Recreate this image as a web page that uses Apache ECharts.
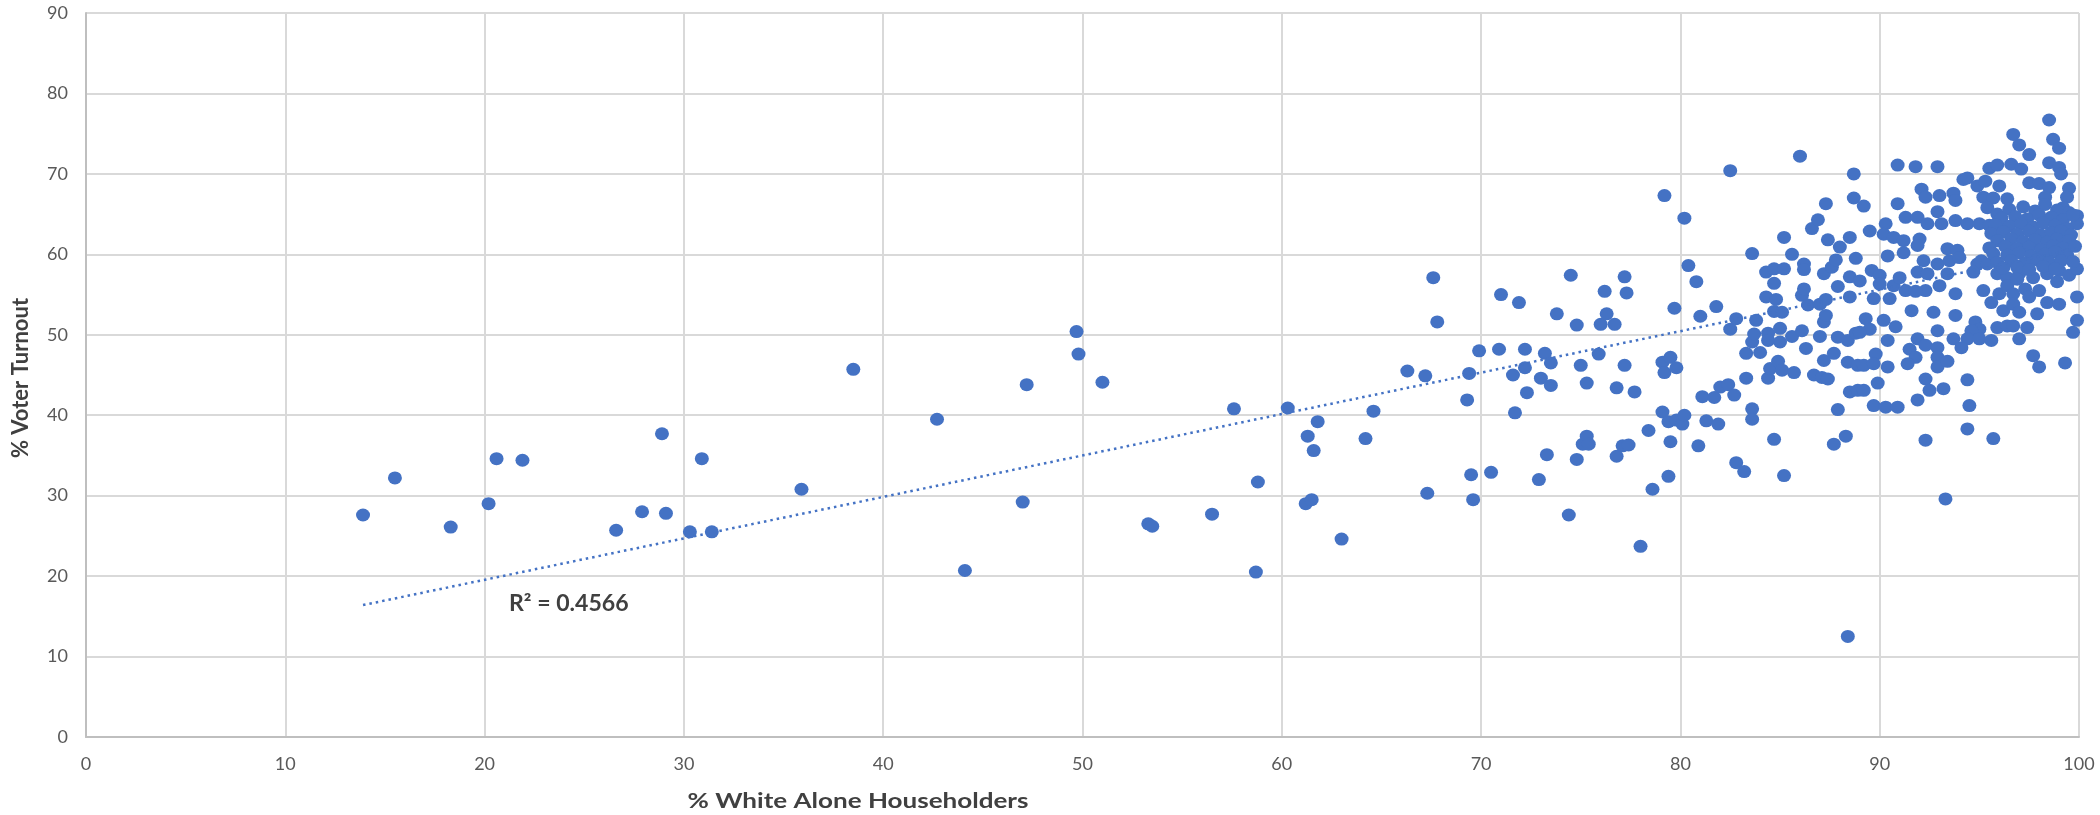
<!DOCTYPE html>
<html>
<head>
<meta charset="utf-8">
<script src="https://cdn.jsdelivr.net/npm/echarts@6/dist/echarts.min.js"></script>
<style>
html,body{margin:0;padding:0;background:#ffffff;}
#chart{width:2100px;height:815px;}
</style>
</head>
<body>
<div id="chart"></div>
<script>
// % White Alone Householders (x) and % Voter Turnout (y), paired by index
const pctWhite = [
  13.9,15.5,18.3,20.2,20.6,21.9,26.6,27.9,28.9,29.1,
  30.3,30.9,31.4,35.9,38.5,42.7,44.1,47.0,47.2,49.7,
  49.8,51.0,53.3,53.5,56.5,57.6,58.7,58.8,60.3,61.2,
  61.5,61.3,61.6,61.8,63.0,
  64.2,64.6,66.3,67.2,67.3,67.6,67.8,69.3,69.4,69.5,
  69.6,69.9,70.5,70.9,71.0,71.6,71.7,71.9,72.2,72.2,
  72.3,72.9,73.0,73.2,73.3,73.5,73.5,73.8,74.4,74.5,
  74.8,74.8,75.0,75.1,75.3,75.3,75.4,75.9,76.0,76.2,
  76.3,76.7,76.8,76.8,77.1,77.2,77.2,77.3,77.4,77.7,
  78.0,78.4,78.6,79.1,79.1,79.2,79.2,79.4,79.4,79.5,
  79.5,79.7,79.8,79.8,80.1,80.2,80.2,80.4,80.8,80.9,
  81.0,81.1,81.3,81.7,81.8,81.9,82.0,82.4,82.5,82.5,
  82.7,82.8,82.8,83.2,83.3,83.3,83.6,83.6,83.6,83.6,
  83.7,83.8,84.0,84.3,84.3,84.4,84.4,84.4,84.5,84.7,
  84.7,84.7,84.7,84.8,84.9,85.0,85.0,85.1,85.1,85.2,
  85.2,85.2,85.6,85.6,85.7,86.0,86.1,86.1,86.2,86.2,
  86.2,86.3,86.4,86.6,86.7,86.9,87.0,87.0,87.1,87.2,
  87.2,87.2,87.3,87.3,87.3,87.4,87.4,87.6,87.7,87.7,
  87.8,87.9,87.9,87.9,88.0,88.3,88.4,88.4,88.4,88.5,
  88.5,88.5,88.5,88.7,88.7,88.8,88.8,88.9,88.9,89.2,
  89.5,90.9,91.8,92.9,95.5,95.9,96.6,97.1,98.5,99.0,
  99.1,98.5,96.7,97.0,97.5,98.7,99.0,94.2,94.4,94.9,
  95.3,96.0,97.5,98.0,98.5,99.5,92.1,92.3,93.0,93.7,
  93.8,90.9,95.2,95.7,96.4,98.3,99.4,99.2,92.9,95.4,
  95.9,91.3,91.9,92.4,90.3,93.1,93.8,94.4,95.0,95.5,
  96.3,99.9,99.9,90.2,90.7,91.2,92.0,91.9,90.4,91.2,
  93.4,93.9,95.1,89.0,89.6,90.0,90.0,90.7,91.3,91.0,
  91.9,92.2,92.4,92.9,93.4,93.5,94.0,93.0,93.8,92.3,
  91.8,94.9,95.4,94.7,95.9,96.4,97.0,97.7,98.4,99.0,
  99.5,99.9,95.2,95.6,96.0,96.4,96.7,97.3,97.5,98.0,
  98.4,99.0,97.9,99.9,96.2,96.7,97.0,91.6,92.7,93.8,
  89.7,90.5,89.3,90.2,89.5,90.8,89.0,92.9,94.8,95.0,
  94.6,95.9,96.4,96.7,97.4,97.0,99.7,99.9,90.4,91.9,
  93.7,94.4,95.0,95.6,94.1,91.5,92.3,92.9,91.8,92.9,
  89.8,97.7,98.0,99.3,89.2,89.7,90.4,91.4,92.9,93.4,
  92.3,92.5,93.2,89.9,94.4,94.5,89.2,91.9,89.7,90.3,
  90.9,94.4,92.3,95.7,93.3,
  96.5,97.2,97.8,98.3,98.9,99.5,
  96.1,96.8,97.4,98.0,98.6,99.2,99.7,
  95.8,96.5,97.1,97.7,98.2,98.8,99.4,
  95.6,96.2,96.9,97.5,98.1,98.6,99.1,99.6,
  95.9,96.6,97.2,97.8,98.4,98.9,99.5,
  95.5,96.3,96.9,97.5,98.1,98.7,99.2,99.8,
  95.7,96.4,97.0,97.6,98.3,98.8,99.4,
  95.9,96.6,97.3,97.9,98.5,99.1,99.7,
  96.2,96.9,97.5,98.2,98.8,
  96.9,98.9
];
const pctTurnout = [
  27.6,32.2,26.1,29.0,34.6,34.4,25.7,28.0,37.7,27.8,
  25.5,34.6,25.5,30.8,45.7,39.5,20.7,29.2,43.8,50.4,
  47.6,44.1,26.5,26.2,27.7,40.8,20.5,31.7,40.9,29.0,
  29.5,37.4,35.6,39.2,24.6,
  37.1,40.5,45.5,44.9,30.3,57.1,51.6,41.9,45.2,32.6,
  29.5,48.0,32.9,48.2,55.0,45.0,40.3,54.0,48.2,45.9,
  42.8,32.0,44.6,47.7,35.1,46.5,43.7,52.6,27.6,57.4,
  51.2,34.5,46.2,36.4,44.0,37.4,36.4,47.6,51.3,55.4,
  52.6,51.3,43.4,34.9,36.2,46.2,57.2,55.2,36.3,42.9,
  23.7,38.1,30.8,46.6,40.4,67.3,45.3,39.2,32.4,47.2,
  36.7,53.3,45.9,39.4,38.9,40.0,64.5,58.6,56.6,36.2,
  52.3,42.3,39.3,42.2,53.5,38.9,43.5,43.8,70.4,50.7,
  42.5,52.0,34.1,33.0,44.6,47.7,60.1,40.8,39.5,49.1,
  50.1,51.8,47.8,57.8,54.7,50.2,49.3,44.6,45.8,58.2,
  56.4,52.9,37.0,54.4,46.7,50.8,49.1,52.8,45.6,62.1,
  58.2,32.5,60.0,49.8,45.3,72.2,54.9,50.5,58.8,58.1,
  55.7,48.3,53.7,63.2,45.0,64.3,53.8,49.8,44.7,57.6,
  51.6,46.8,66.3,54.4,52.4,61.8,44.5,58.4,47.7,36.4,
  59.3,56.0,49.7,40.7,60.9,37.4,49.3,46.6,12.5,62.1,
  57.2,54.7,42.9,70.0,67.0,59.5,50.2,46.2,43.1,66.0,
  62.9,71.1,70.9,70.9,70.7,71.1,71.2,70.6,71.4,70.8,
  70.0,76.7,74.9,73.6,72.4,74.3,73.2,69.3,69.5,68.5,
  69.1,68.5,68.9,68.8,68.3,68.2,68.1,67.1,67.3,67.6,
  66.7,66.3,67.1,67.0,66.9,67.1,67.1,65.8,65.3,65.8,
  65.0,64.6,64.6,63.8,63.8,63.8,64.2,63.8,63.8,63.6,
  63.3,64.8,63.8,62.5,62.1,61.7,61.9,61.1,59.8,60.2,
  60.7,60.5,59.2,56.7,58.0,57.4,56.3,56.1,55.5,57.1,
  57.8,59.2,57.6,58.8,57.6,59.2,59.6,56.1,55.1,55.5,
  55.4,58.8,58.8,57.8,57.6,57.1,57.6,57.1,57.6,58.0,
  57.4,58.2,55.5,54.0,55.1,56.1,55.1,55.7,54.7,55.5,
  54.0,53.8,52.6,54.7,53.0,53.8,52.8,53.0,52.8,52.4,
  54.5,54.5,52.0,51.8,50.7,51.0,50.3,50.5,51.6,50.7,
  50.5,50.9,51.1,51.1,50.9,49.5,50.3,51.8,49.3,49.5,
  49.5,49.5,49.5,49.3,48.4,48.2,48.7,48.4,47.2,47.2,
  47.6,47.4,46.0,46.5,46.2,46.4,46.0,46.4,46.0,46.7,
  44.5,43.1,43.3,44.0,44.4,41.2,43.1,41.9,41.2,41.0,
  41.0,38.3,36.9,37.1,29.6,
  65.6,65.9,65.4,66.2,65.5,65.2,
  64.5,64.7,64.4,64.9,64.6,64.3,64.9,
  63.7,63.5,63.8,63.4,63.9,63.6,63.2,
  62.6,62.8,62.5,62.9,62.4,62.7,62.9,62.4,
  61.7,61.9,61.6,61.8,61.5,61.9,61.7,
  60.8,61.0,60.7,60.9,60.6,61.1,60.8,61.0,
  60.1,59.9,60.2,59.8,60.0,60.3,59.9,
  59.0,59.2,58.9,59.3,59.0,59.2,59.1,
  58.3,58.4,58.1,58.5,58.2,
  56.9,56.6
];
// Linear trendline end points
const trendX = [13.9, 99.9];
const trendY = [16.4, 60.7];
const rSquaredLabel = 'R² = 0.4566';
const xTitle = '% White Alone Householders';
const yTitle = '% Voter Turnout';

const points = pctWhite.map((x, i) => [x, pctTurnout[i]]);
const trend = trendX.map((x, i) => [x, trendY[i]]);

const chart = echarts.init(document.getElementById('chart'), null, {renderer: 'canvas'});
const labelStyle = {color: '#595959', fontSize: 18, fontFamily: 'Lato'};
chart.setOption({
  animation: false,
  backgroundColor: '#ffffff',
  grid: {left: 86, right: 21, top: 13, bottom: 78},
  xAxis: {
    type: 'value', min: 0, max: 100, interval: 10,
    axisLine: {show: true, onZero: false, lineStyle: {color: '#bfbfbf', width: 2}},
    axisTick: {show: false},
    axisLabel: Object.assign({margin: 18}, labelStyle),
    splitLine: {show: true, lineStyle: {color: '#d9d9d9', width: 2}}
  },
  yAxis: {
    type: 'value', min: 0, max: 90, interval: 10,
    axisLine: {show: true, onZero: false, lineStyle: {color: '#bfbfbf', width: 2}},
    axisTick: {show: false},
    axisLabel: Object.assign({margin: 18}, labelStyle),
    splitLine: {show: true, lineStyle: {color: '#d9d9d9', width: 2}}
  },
  series: [
    {
      type: 'scatter', data: points, symbol: 'circle', symbolSize: [14, 13],
      itemStyle: {color: '#4472C4', opacity: 1}, z: 2, silent: true
    },
    {
      type: 'line', data: trend, symbol: 'none', z: 3, silent: true,
      lineStyle: {color: '#4472C4', width: 2.5, type: [2.5, 4]}
    }
  ],
  graphic: [
    {type: 'text', x: 509, y: 604, scaleX: 1.05, style: {text: rSquaredLabel, font: 'bold 22px Lato', fill: '#404040', textAlign: 'left', textVerticalAlign: 'middle'}},
    {type: 'text', x: 858, y: 801, scaleX: 1.24, style: {text: xTitle, font: 'bold 21px Lato', fill: '#404040', textAlign: 'center', textVerticalAlign: 'middle'}},
    {type: 'text', x: 21, y: 378, rotation: Math.PI / 2, style: {text: yTitle, font: 'bold 22px Lato', fill: '#404040', textAlign: 'center', textVerticalAlign: 'middle'}}
  ]
});
</script>
</body>
</html>
